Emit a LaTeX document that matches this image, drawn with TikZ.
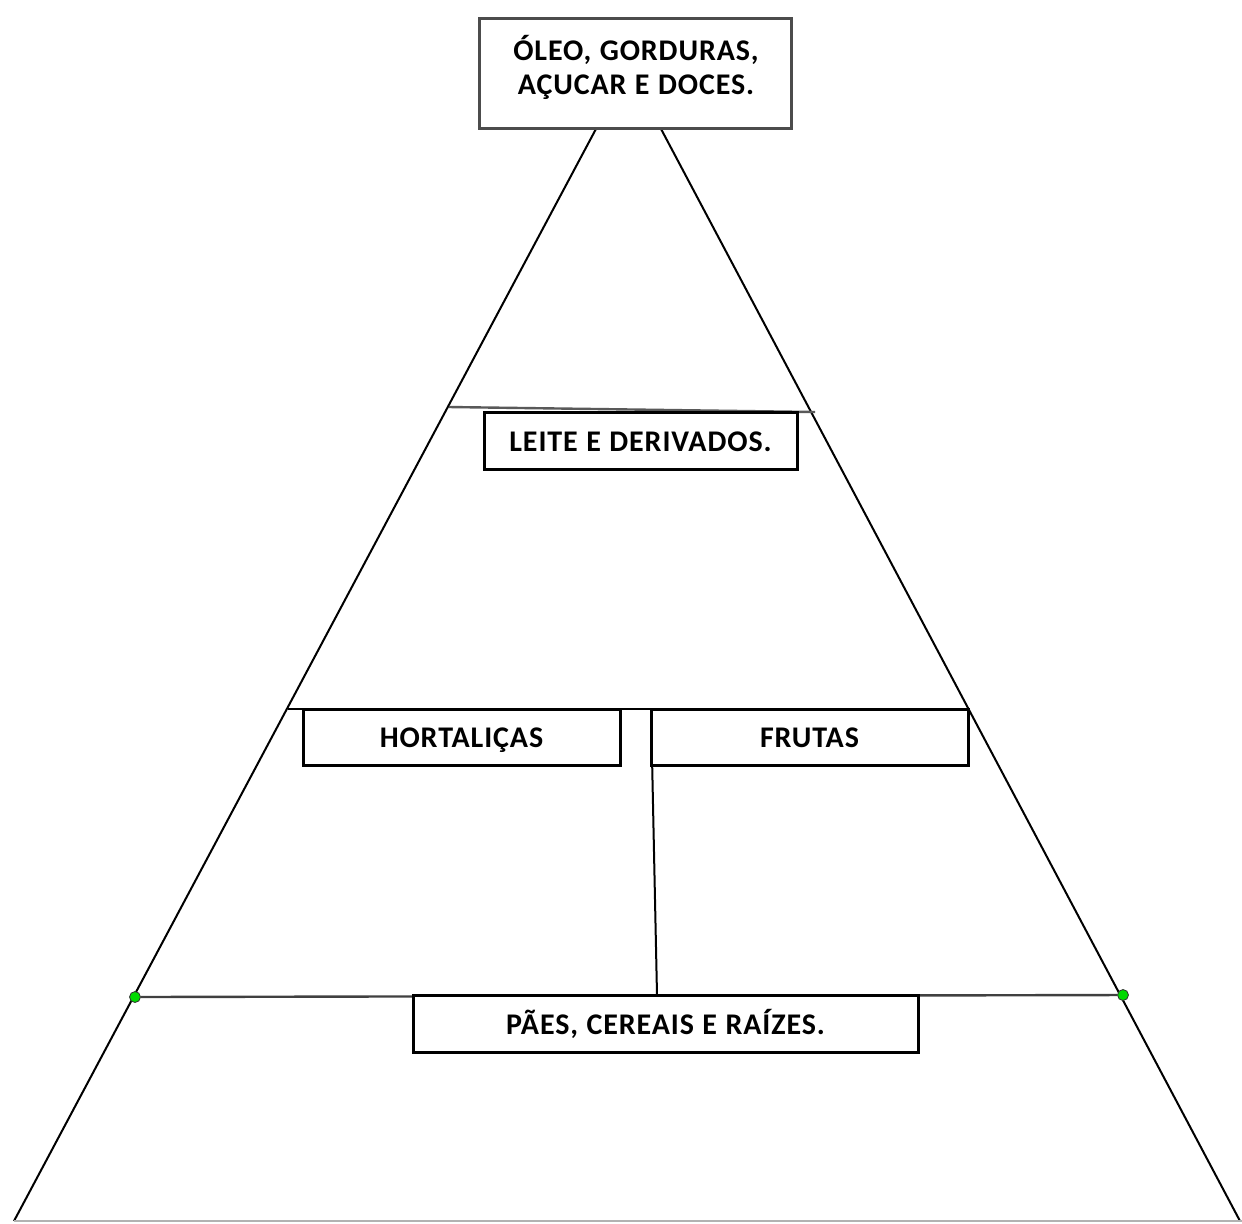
\documentclass[tikz,border=0pt]{standalone}
\usepackage{fontspec}
\setmainfont{Carlito}[LetterSpace=3,WordSpace=1.1]
\begin{document}
\begin{tikzpicture}[x=0.5pt,y=-0.5pt,
  box/.style={draw=black, line width=1.5pt, fill=white, inner sep=0pt, font=\bfseries\fontsize{15}{17.5}\selectfont, align=center, text height=10.5pt, text depth=0pt},
  lbl/.style={inner sep=0pt, font=\bfseries\fontsize{15}{17}\selectfont, align=center},
  edge/.style={draw=black, line width=1pt},
  dot/.style={circle, fill=green!85!black, draw=black!80, line width=0.4pt, minimum size=5.5pt, inner sep=0pt}]
\useasboundingbox (0,0) rectangle (1242,1223);
% pyramid corners
\coordinate (apexL) at (597,127);
\coordinate (apexR) at (660,127);
\coordinate (baseL) at (14,1221);
\coordinate (baseR) at (1240,1221);
\coordinate (baseEnd) at (1242,1221);
% level line ends
\coordinate (l1a) at (449,407);
\coordinate (l1b) at (815,412);
\coordinate (l2a) at (288,709);
\coordinate (l2b) at (970,709);
\coordinate (vtop) at (651,709);
\coordinate (vbot) at (657,995);
% pyramid sides and levels
\draw[edge] (apexL) -- (baseL);
\draw[edge] (apexR) -- (baseR);
\draw[draw=black!30, line width=1pt] (baseL) -- (baseEnd);
\draw[draw=black!65, line width=1.2pt] (l1a) -- (l1b);
\draw[edge, line width=1.2pt] (l2a) -- (l2b);
\draw[edge] (vtop) -- (vbot);
\node[dot] (g1) at (135,997) {};
\node[dot] (g2) at (1123,995) {};
\draw[draw=black!75, line width=1.2pt] (g1) -- (g2);
% boxes
\node[box, draw=black!70, minimum width=156pt, minimum height=55pt] (top) at (635,73) {};
\node[lbl] (toptext) at (636,67) {ÓLEO, GORDURAS,\\AÇUCAR E DOCES.};
\node[box, minimum width=156.5pt, minimum height=28.5pt] (leite) at (640.5,440.5) {LEITE E DERIVADOS.};
\node[box, minimum width=158.5pt, minimum height=28pt] (hort) at (461.5,737) {HORTALIÇAS};
\node[box, minimum width=158.5pt, minimum height=28pt] (frut) at (809.5,737) {FRUTAS};
\node[box, minimum width=252.5pt, minimum height=28.5pt] (paes) at (665.5,1023.5) {PÃES, CEREAIS E RAÍZES.};
\end{tikzpicture}
\end{document}
